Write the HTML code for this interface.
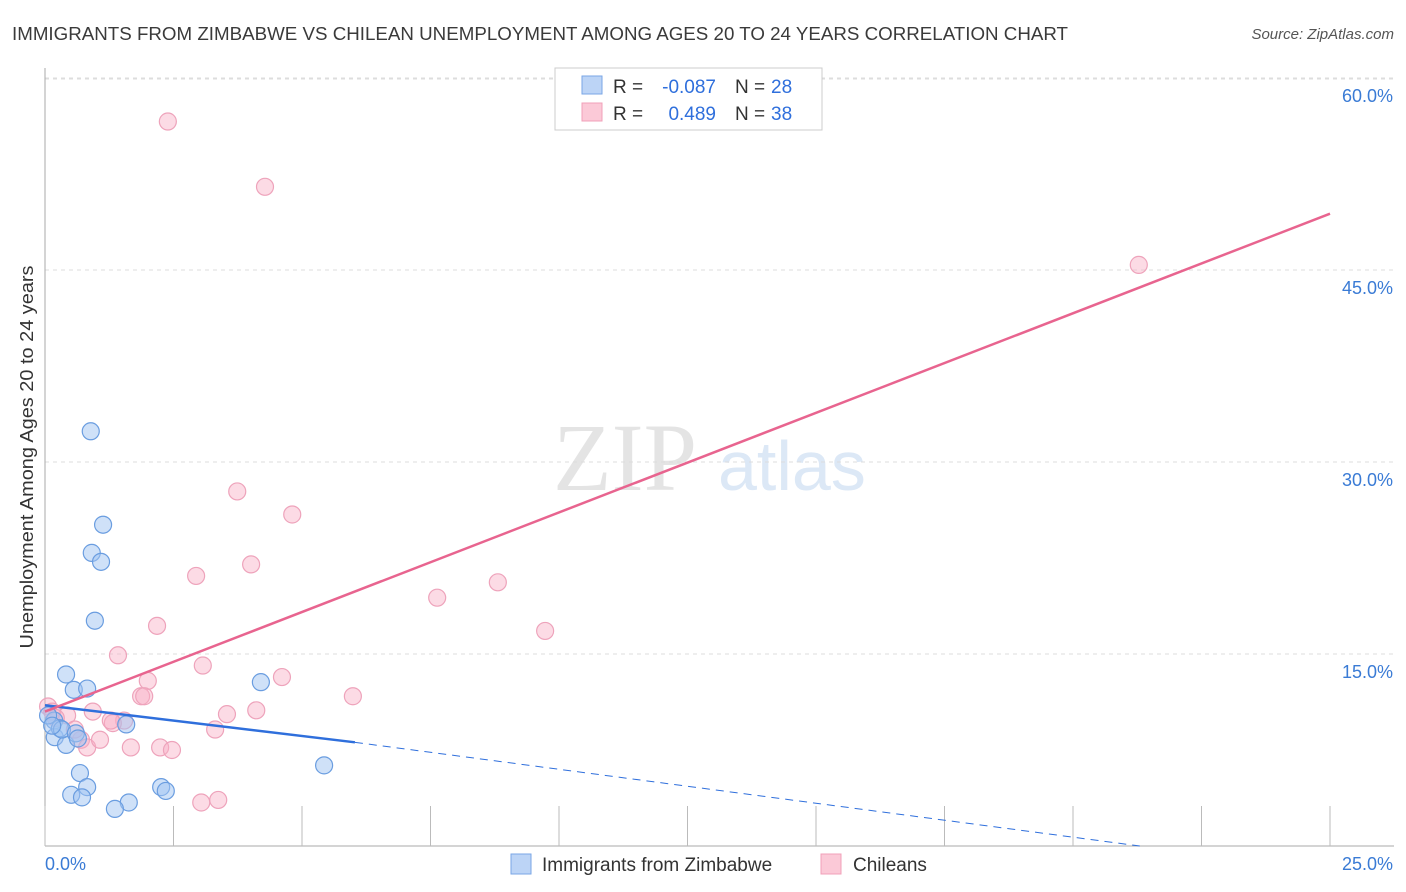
<!DOCTYPE html>
<html><head><meta charset="utf-8"><style>
body{margin:0;background:#fff;font-family:"Liberation Sans",sans-serif;}
</style></head><body>
<svg id="chart" width="1406" height="892" xmlns="http://www.w3.org/2000/svg" style="display:block">
<text x="12" y="40" font-size="18" fill="#3a3a3a" textLength="1056" lengthAdjust="spacingAndGlyphs">IMMIGRANTS FROM ZIMBABWE VS CHILEAN UNEMPLOYMENT AMONG AGES 20 TO 24 YEARS CORRELATION CHART</text>
<text x="1394" y="39" font-size="15" fill="#555" font-style="italic" text-anchor="end">Source: ZipAtlas.com</text>
<text x="553" y="490" font-size="96" fill="#e4e4e4" font-family="Liberation Serif">ZIP</text>
<text x="718" y="490" font-size="70" fill="#dce8f6">atlas</text>
<text transform="translate(33,457) rotate(-90)" font-size="18" fill="#333" text-anchor="middle" textLength="383" lengthAdjust="spacingAndGlyphs">Unemployment Among Ages 20 to 24 years</text>
<g id="grid"></g><g id="axes"></g><g id="marks"></g>
<g>
<rect x="555" y="68" width="267" height="62" fill="#fff" stroke="#ccc"/>
<rect x="582" y="76" width="20" height="18" fill="#bcd4f6" stroke="#7aa6e6"/>
<rect x="582" y="103" width="20" height="18" fill="#fbc9d7" stroke="#f0a0b8"/>
<g font-size="19" fill="#333">
<text x="613" y="93">R =</text><text x="716" y="93" text-anchor="end" fill="#2f6fdc">-0.087</text>
<text x="735" y="93">N =</text><text x="771" y="93" fill="#2f6fdc">28</text>
<text x="613" y="120">R =</text><text x="716" y="120" text-anchor="end" fill="#2f6fdc">0.489</text>
<text x="735" y="120">N =</text><text x="771" y="120" fill="#2f6fdc">38</text>
</g>
</g>
<g>
<rect x="511" y="854" width="20" height="20" fill="#bcd4f6" stroke="#7aa6e6"/>
<text x="542" y="871" font-size="19" fill="#333">Immigrants from Zimbabwe</text>
<rect x="821" y="854" width="20" height="20" fill="#fbc9d7" stroke="#f0a0b8"/>
<text x="853" y="871" font-size="19" fill="#333">Chileans</text>
</g>
</svg>
<script>
const blueX=[0.89,1.13,0.91,1.09,0.97,0.41,0.56,0.82,4.20,0.18,0.19,0.29,0.41,0.33,0.60,0.64,1.58,0.06,5.43,0.68,0.82,0.51,0.72,1.63,1.36,2.26,2.35,0.14];
const blueY=[32.4,25.1,22.9,22.2,17.6,13.4,12.2,12.3,12.8,9.8,8.5,9.2,7.9,9.1,8.8,8.4,9.5,10.2,6.3,5.7,4.6,4.0,3.8,3.4,2.9,4.6,4.3,9.4];
const pinkX=[2.39,4.28,21.28,3.74,4.81,4.01,2.94,8.81,7.63,2.18,9.73,1.42,3.07,4.61,2.00,1.87,1.93,5.99,3.54,4.11,0.43,0.93,1.54,1.32,1.28,3.31,0.06,0.14,0.21,0.70,0.82,1.07,1.67,2.24,2.47,3.04,3.37,0.58];
const pinkY=[56.6,51.5,45.4,27.7,25.9,22.0,21.1,20.6,19.4,17.2,16.8,14.9,14.1,13.2,12.9,11.7,11.7,11.7,10.3,10.6,10.2,10.5,9.8,9.6,9.8,9.1,10.9,10.5,10.0,8.3,7.7,8.3,7.7,7.7,7.5,3.4,3.6,9.1];
const yTicks=[15,30,45,60];
const yTickLabels=["15.0%","30.0%","45.0%","60.0%"];
const xTickVals=[0,2.5,5,7.5,10,12.5,15,17.5,20,22.5,25];
const blueTrend=[0,11.0,6.03,8.1,21.3,0];
const pinkTrend=[0,10.5,25,49.4];
const NS="http://www.w3.org/2000/svg";
const X=v=>45+v*51.4, Y=v=>846-v*12.8;
function mk(tag,attrs,parent){const e=document.createElementNS(NS,tag);for(const k in attrs)e.setAttribute(k,attrs[k]);parent.appendChild(e);return e;}
const grid=document.getElementById('grid'),axes=document.getElementById('axes'),marks=document.getElementById('marks');
yTicks.forEach((t,i)=>{
 const l=mk('line',{x1:45,x2:1394,y1:Y(t),y2:Y(t),stroke:'#ddd','stroke-dasharray':'4,4'},grid);
 
 
 const tx=mk('text',{x:1393,y:Y(t)+24,'font-size':18,fill:'#3a7bd5','text-anchor':'end'},axes);
 tx.textContent=yTickLabels[i];
 
 
});
mk('line',{x1:45,x2:1394,y1:79,y2:79,stroke:'#ddd','stroke-dasharray':'4,4'},grid);
const ya=mk('line',{x1:45,x2:45,y1:68,y2:846,stroke:'#aaa'},axes);


const xa=mk('line',{x1:45,x2:1394,y1:846,y2:846,stroke:'#aaa'},axes);


xTickVals.forEach(v=>{const t=mk('line',{x1:X(v),x2:X(v),y1:806,y2:846,stroke:'#bbb'},axes);
 
 });
const x0=mk('text',{x:45,y:870,'font-size':18,fill:'#3a7bd5'},axes);x0.textContent='0.0%';


const x1=mk('text',{x:1393,y:870,'font-size':18,fill:'#3a7bd5','text-anchor':'end'},axes);x1.textContent='25.0%';


function dots(xs,ys,fill,stroke,name){xs.forEach((x,i)=>{const c=mk('circle',{cx:X(x),cy:Y(ys[i]),r:8.5,fill:fill,stroke:stroke,'stroke-width':1.2},marks);
 
 });}
dots(pinkX,pinkY,'rgba(248,175,198,0.45)','#eea3bb','chileans-point');
dots(blueX,blueY,'rgba(160,196,242,0.5)','#6a9de0','zimbabwe-point');
const bt=mk('line',{x1:X(blueTrend[0]),y1:Y(blueTrend[1]),x2:X(blueTrend[2]),y2:Y(blueTrend[3]),stroke:'#2f6fdc','stroke-width':2.5},marks);


const bd=mk('line',{x1:X(blueTrend[2]),y1:Y(blueTrend[3]),x2:X(blueTrend[4]),y2:Y(blueTrend[5]),stroke:'#2f6fdc','stroke-width':1,'stroke-dasharray':'8,6'},marks);


const pt=mk('line',{x1:X(pinkTrend[0]),y1:Y(pinkTrend[1]),x2:X(pinkTrend[2]),y2:Y(pinkTrend[3]),stroke:'#e8648f','stroke-width':2.5},marks);


</script>
</body></html>
